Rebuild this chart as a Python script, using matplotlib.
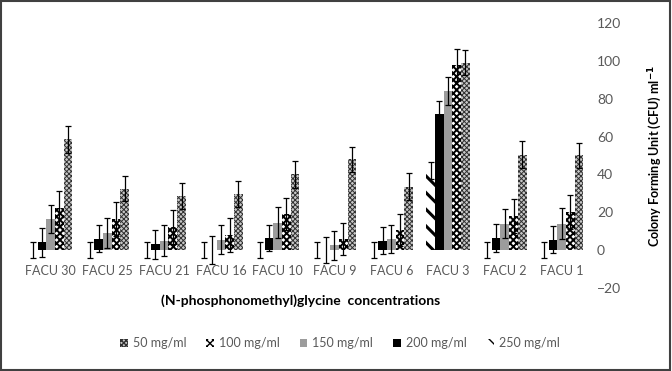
import matplotlib.pyplot as plt
import numpy as np
from matplotlib.patches import Patch, Rectangle

plt.rcParams['font.family'] = ['Lato', 'DejaVu Sans']

categories = ['FACU 30', 'FACU 25', 'FACU 21', 'FACU 16', 'FACU 10',
              'FACU 9', 'FACU 6', 'FACU 3', 'FACU 2', 'FACU 1']

# mean values (CFU/ml) per glyphosate concentration
v250 = [0, 0, 0, 0, 0, 0, 0, 42, 0, 0]
v200 = [4, 6, 3, 0, 6.5, 0, 5, 72, 6.5, 5.5]
v150 = [16.5, 9, 5, 5.5, 14.5, 2.5, 6, 84, 14, 14]
v100 = [22, 16.5, 12, 8, 19, 6, 10.5, 98, 18, 20]
v50 = [58.5, 32.5, 28.5, 29.5, 40, 48, 33.5, 99, 50.5, 50]

# error bars
e250 = [4, 4, 4, 4, 4, 4, 4, 4.5, 4, 4]
e200 = [7.5, 7, 7.5, 7.5, 7, 7, 7, 7, 7.5, 7]
e150 = [7.5, 8, 8, 7.5, 8, 7.5, 7.5, 7.5, 7.5, 8]
e100 = [9, 9, 9, 9, 8.5, 8.5, 8.5, 8.5, 9, 9]
e50 = [7, 6.5, 7, 7, 7, 6.5, 7, 6.5, 7, 6.5]

x = np.arange(len(categories))
w = 0.153

h250 = '\\\\'
h100 = 'xxxxx'
h50 = 'xxxxxxx'

fig = plt.figure(figsize=(6.72, 3.71), dpi=100)
ax = fig.add_axes([0.033, 0.224, 0.845, 0.714])

ekw = dict(ecolor='black', elinewidth=0.9, capsize=2.5, capthick=0.9)

with plt.rc_context({'hatch.linewidth': 2.2}):
    ax.bar(x - 2 * w, v250, w, yerr=e250, color='white', edgecolor='black',
           linewidth=0, hatch=h250, error_kw=ekw)
ax.bar(x - w, v200, w, yerr=e200, color='black', linewidth=0, error_kw=ekw)
ax.bar(x, v150, w, yerr=e150, color='#9c9c9c', linewidth=0, error_kw=ekw)
with plt.rc_context({'hatch.linewidth': 1.4}):
    ax.bar(x + w, v100, w, yerr=e100, color='white', edgecolor='black',
           linewidth=0, hatch=h100, error_kw=ekw)
with plt.rc_context({'hatch.linewidth': 0.7}):
    ax.bar(x + 2 * w, v50, w, yerr=e50, color='#c8c8c8', edgecolor='#303030',
           linewidth=0, hatch=h50, error_kw=ekw)

ax.set_xlim(-0.5, 9.5)
ax.set_ylim(-20, 120)
ax.set_yticks(range(-20, 121, 20))
ax.yaxis.tick_right()
ax.tick_params(axis='y', length=0, pad=5, labelsize=10, labelcolor='#595959')
ax.set_xticks(x)
ax.set_xticklabels(categories)
ax.spines['bottom'].set_position(('data', 0))
ax.tick_params(axis='x', length=0, pad=11, labelsize=9, labelcolor='#595959')
for s in ax.spines.values():
    s.set_visible(False)

fig.text(0.975, 0.58, 'Colony Forming Unit (CFU) ml$^{\\mathbf{-1}}$', rotation=90,
         ha='center', va='center', fontsize=9, fontweight='bold')
fig.text(0.447, 0.19, '(N-phosphonomethyl)glycine  concentrations',
         ha='center', va='center', fontsize=10, fontweight='bold')

with plt.rc_context({'hatch.linewidth': 0.7}):
    p50 = Patch(facecolor='#c8c8c8', edgecolor='#303030', linewidth=0, hatch=h50, label='50 mg/ml')
with plt.rc_context({'hatch.linewidth': 1.4}):
    p100 = Patch(facecolor='white', edgecolor='black', linewidth=0, hatch=h100, label='100 mg/ml')
with plt.rc_context({'hatch.linewidth': 2.0}):
    p250 = Patch(facecolor='white', edgecolor='black', linewidth=0, hatch=h250, label='250 mg/ml')
handles = [p50, p100,
           Patch(facecolor='#9c9c9c', linewidth=0, label='150 mg/ml'),
           Patch(facecolor='black', linewidth=0, label='200 mg/ml'),
           p250]
leg = fig.legend(handles=handles, loc='center', bbox_to_anchor=(0.506, 0.075), ncol=5,
                 frameon=False, fontsize=9, handlelength=0.6, handleheight=0.6,
                 handletextpad=0.4, columnspacing=1.6)
for t in leg.get_texts():
    t.set_color('#595959')

fig.add_artist(Rectangle((0.002, 0.003), 0.995, 0.993, transform=fig.transFigure,
                         fill=False, edgecolor='#404040', linewidth=1.5))

plt.savefig('out.png', dpi=100)
